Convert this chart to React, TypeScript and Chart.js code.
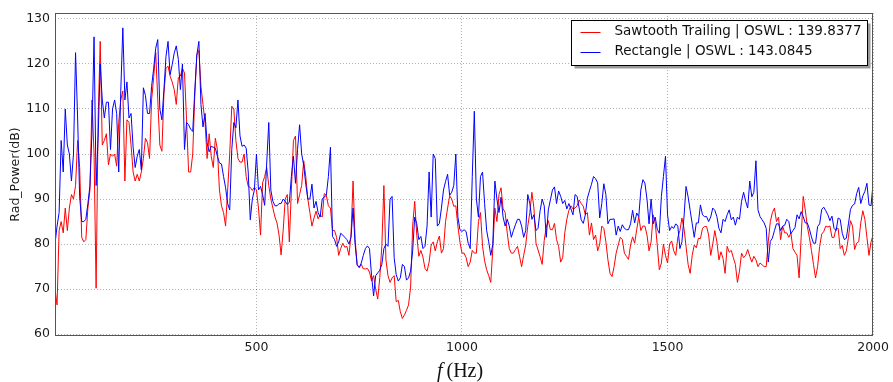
import React, { useEffect, useRef } from "react";
import { Chart, registerables } from "chart.js";

Chart.register(...registerables);

// Frequency grid (Hz): start and step of the spectrum samples
const F_START = 10;
const F_STEP = 5;

// Sawtooth Trailing radiated power (dB)
const sawtoothDb = [
  70, 66.5, 83, 85, 82.5, 88, 83, 88, 91, 90,
  93, 103, 97, 81.5, 80.5, 81, 88, 92, 112, 100,
  70.2, 108, 125, 102, 103, 104.5, 97.6, 100, 99.5, 100,
  97.3, 107, 112, 114, 94, 107.6, 107, 102, 96, 94,
  95.5, 94, 96, 99, 103.5, 102.5, 99, 112, 117, 122.5,
  112, 102, 100.6, 113.5, 119, 119.5, 117.3, 116, 114.3, 111,
  117, 117.3, 119, 118, 107.6, 96, 96, 100, 113, 122,
  123, 115, 111, 107, 99, 104.5, 99.5, 97, 103.5, 101,
  92, 88.5, 87, 84, 92, 100, 110.6, 110, 103, 99,
  98.2, 98.2, 100, 95, 92.8, 92.6, 91.9, 92.6, 92, 88,
  82, 93.6, 95, 97, 93, 90, 88, 86, 84.7, 82,
  77.6, 83, 90, 91, 80.5, 92, 103, 104, 89, 91,
  93, 98.5, 95, 90, 87, 84, 85.8, 87.3, 85.6, 86.5,
  86, 91.2, 90.8, 88.5, 88, 83, 83, 81.5, 77.5, 79,
  80.2, 79.3, 79.5, 77.5, 82, 94, 81, 75.5, 74.8, 75.5,
  74.5, 74.5, 74.6, 73.8, 71.8, 73, 70, 67.8, 72.5, 79.5,
  93, 76.5, 73, 71.5, 72.5, 73, 67.2, 67.5, 65, 63.5,
  64.3, 65.3, 66.5, 70.5, 84, 89.5, 82, 77.3, 78.6, 77.1,
  74.6, 74, 76, 79.8, 80.5, 78.5, 80.5, 81.8, 78, 79,
  85, 88, 90.7, 90, 88.4, 88.5, 84, 80.5, 78, 78,
  77, 75, 76, 78.6, 78, 78, 85, 87, 79.5, 76.3,
  74.3, 73, 71.5, 79, 88, 85, 91, 92.5, 87.8, 87,
  82.5, 79, 78, 78, 78.8, 79.5, 77.3, 75, 77.5, 79.8,
  84, 87, 91.5, 88, 80.2, 78.7, 77.2, 75.5, 80.8, 83.8,
  85.2, 83.2, 83.2, 84.6, 81, 79.5, 76, 77, 82.5, 85.5,
  87.5, 88.5, 87.8, 88, 88.5, 89.8, 89, 88.4, 86.5, 87,
  82, 84.7, 81, 82, 78.5, 80, 84, 83.5, 80.5, 76.5,
  73.5, 72.8, 75, 78, 79.8, 81.5, 81, 78, 77.3, 76.6,
  79.8, 81.6, 80.2, 83.2, 86.1, 83, 84, 84, 82, 78.5,
  80.5, 86.5, 84.7, 79.8, 74.3, 75.8, 80, 77.5, 75.8, 80,
  80.7, 78.5, 77.5, 81.5, 83, 85.8, 83.5, 79.5, 75.5, 73.5,
  77.5, 79.8, 79.2, 81.3, 81.2, 83.5, 83.9, 83.9, 82, 77.5,
  80, 83, 80.5, 76.5, 78.3, 76.8, 73.5, 79.5, 78.2, 78.6,
  77, 75.5, 71.5, 74, 78, 77, 77.5, 78.8, 77.3, 76,
  77.3, 76.5, 75, 75.8, 75.4, 75, 75, 80.5, 85, 87,
  88, 85, 86, 81, 84, 82.5, 82.5, 81.5, 82.5, 79,
  78.2, 77.5, 72.5, 81.5, 90.6, 87.6, 83.9, 81.5, 78.6, 75.5,
  72.5, 75, 79.5, 82.2, 82.8, 84, 83.8, 84, 81.5, 81.5,
  83.5, 83.5, 79, 79.7, 77.5, 78.5, 81.5, 85.2, 84, 78.8,
  80.2, 80.5, 84.7, 87.4, 85.5, 81.5, 77.5, 80.5, 82,
];

// Rectangle radiated power (dB)
const rectangleDb = [
  80, 84, 87, 103, 96, 110, 102, 100, 94, 100,
  122.5, 108, 90.5, 85, 85, 85.5, 89, 93, 105, 126,
  93, 104, 120, 112, 108, 111.5, 111.5, 101, 110, 112,
  109, 96, 114, 128, 112, 116, 108, 109, 101.5, 97,
  99.5, 101, 96.5, 114.7, 113, 109, 109, 115, 119, 123.5,
  125.4, 110, 107.6, 114.3, 121.7, 125, 117.6, 119.8, 122.4, 124,
  121, 114.3, 120, 101, 107, 106.5, 105.5, 105, 114, 122,
  125, 111, 106, 109, 102.5, 100.5, 101.7, 101.5, 101.3, 99.5,
  98, 97.8, 95, 92.5, 89, 87.6, 101, 107, 105.8, 112,
  104, 101.7, 102, 101.3, 96, 85.4, 90, 92, 100, 92,
  92.8, 91, 88.6, 98, 107, 92, 89.5, 88.5, 88.5, 89,
  89, 90, 89.5, 88.8, 89.3, 95, 99.5, 93.5, 101, 106.5,
  100, 97.5, 93.3, 90, 90, 93.3, 88, 89.5, 87, 86,
  90, 90.5, 90.8, 95, 101.5, 81.7, 81, 79.5, 80.5, 82.4,
  82, 81.5, 81, 80, 81.5, 88, 80, 75.3, 74.8, 75.8,
  77.5, 79, 79.6, 79, 73, 68.5, 73, 73.6, 74.2, 75.5,
  79, 80, 79.5, 90, 90.6, 77, 73.2, 71.8, 72.5, 75.5,
  75, 72, 72.5, 74, 78.5, 86, 84.5, 81, 81.7, 79,
  79.5, 84, 96, 86, 100, 99, 84, 84.6, 88, 92,
  93.9, 95.5, 90.8, 91.5, 93, 100, 86, 83.2, 82.8, 83.2,
  82.8, 80.2, 79, 95, 109.5, 90, 86, 95, 96, 89,
  83, 80.5, 77.5, 80, 94, 90, 87, 90.4, 86, 84,
  85.5, 84, 81.5, 83, 84.3, 85.5, 85.5, 84, 81.5, 83,
  91, 89, 85.5, 86.5, 83, 83.5, 87.4, 90, 88.5, 81.5,
  87.6, 89.8, 92, 92.7, 89, 91.8, 90.6, 89, 89.7, 87.8,
  89, 87.8, 86.5, 91, 90.6, 88, 85.4, 84.6, 86.5, 90.2,
  91.8, 93.3, 95, 94.5, 93.6, 85.8, 89, 93.4, 91, 84.5,
  85.5, 85.5, 85.6, 82, 84, 82.8, 84.3, 83.5, 83.2, 83.2,
  84.5, 87.5, 84.7, 86.9, 86.1, 92, 94.3, 93.5, 90, 84.5,
  90, 84.5, 86, 83.3, 82.4, 90.6, 95, 99.5, 86.5, 83,
  83.9, 83.5, 84.5, 84, 79, 80.5, 86, 92.8, 90.5, 87.5,
  84.5, 81.5, 84.7, 84.7, 88.7, 86.5, 86.1, 86.1, 85, 86,
  88, 87.5, 86.1, 83.5, 82.5, 85.5, 85, 86.5, 87.6, 85.4,
  86, 84.2, 86, 85.5, 89.5, 91.5, 89.5, 88, 94, 90.5,
  91.5, 98.5, 87.6, 86.1, 85.4, 84.7, 83.5, 76, 80.6, 81.3,
  83, 84.5, 84.5, 83, 84, 84.2, 85.5, 85, 82.3, 83,
  83.7, 86.5, 85.6, 87.2, 86.1, 84.7, 84.7, 83.4, 81.6, 80.2,
  80.2, 83.9, 84.5, 87.7, 88.2, 87.4, 86.5, 85.2, 86.2, 83.5,
  83, 85.8, 85.5, 82.4, 81, 81.3, 84.5, 87.7, 88.6, 88.9,
  91.2, 92.6, 89, 90.7, 91.7, 93.5, 88.7, 88.5, 93.5,
];

const freqHz = sawtoothDb.map((_, i) => F_START + F_STEP * i);

const xTickValues = [500, 1000, 1500, 2000];
const yTickValues = [60, 70, 80, 90, 100, 110, 120, 130];
const seriesLabels = [
  "Sawtooth Trailing | OSWL : 139.8377",
  "Rectangle | OSWL : 143.0845",
];
const seriesColors = ["#ff0000", "#0000ff"];
const yAxisTitle = "Rad_Power(dB)";
const xAxisSymbol = "f";
const xAxisUnit = "(Hz)";

const framePlugin = {
  id: "frame",
  afterDatasetsDraw(chart: any) {
    const { ctx, chartArea: a } = chart;
    ctx.save();
    ctx.strokeStyle = "#555";
    ctx.lineWidth = 1;
    ctx.strokeRect(Math.round(a.left) + 0.5, Math.round(a.top) + 0.5,
      Math.round(a.right - a.left) - 1, Math.round(a.bottom - a.top) - 1);
    ctx.restore();
  },
};

const legendPlugin = {
  id: "boxLegend",
  afterDraw(chart: any) {
    const { ctx, chartArea: a } = chart;
    const bw = 296, bh = 45;
    const bx = Math.round(a.right - 6 - bw) + 0.5;
    const by = Math.round(a.top + 7) + 0.5;
    ctx.save();
    ctx.fillStyle = "#9a9a9a";
    ctx.fillRect(bx + 3, by + 3, bw, bh);
    ctx.fillStyle = "#ffffff";
    ctx.fillRect(bx, by, bw, bh);
    ctx.strokeStyle = "#000";
    ctx.lineWidth = 1;
    ctx.strokeRect(bx, by, bw, bh);
    ctx.font = '13.5px "DejaVu Sans"';
    ctx.textBaseline = "middle";
    const order = [0, 1];
    order.forEach((k, row) => {
      const y = by + 11 + row * 20;
      ctx.strokeStyle = seriesColors[k];
      ctx.lineWidth = 1;
      ctx.beginPath();
      ctx.moveTo(bx + 9, Math.round(y) + 0.5);
      ctx.lineTo(bx + 29, Math.round(y) + 0.5);
      ctx.stroke();
      ctx.fillStyle = "#111";
      ctx.fillText(seriesLabels[k], bx + 43, y);
    });
    ctx.restore();
  },
};

const xTitlePlugin = {
  id: "xTitle",
  afterDraw(chart: any) {
    const { ctx, chartArea: a } = chart;
    ctx.save();
    ctx.fillStyle = "#111";
    ctx.textBaseline = "alphabetic";
    const fFont = 'italic 20px "Liberation Serif"';
    const uFont = '20px "Liberation Serif"';
    ctx.font = fFont;
    const fw = ctx.measureText(xAxisSymbol).width;
    ctx.font = uFont;
    const uw = ctx.measureText(xAxisUnit).width;
    const gap = 4;
    const total = fw + gap + uw;
    const cx = (a.left + a.right) / 2 - 4;
    const x0 = cx - total / 2;
    const y = chart.height - 5;
    ctx.font = fFont;
    ctx.fillText(xAxisSymbol, x0, y);
    ctx.font = uFont;
    ctx.fillText(xAxisUnit, x0 + fw + gap, y);
    ctx.restore();
  },
};

export default function App() {
  const canvasRef = useRef<HTMLCanvasElement | null>(null);

  useEffect(() => {
    document.body.style.margin = "0";
    const canvas = canvasRef.current;
    if (!canvas) return;
    const tickFont = { family: "DejaVu Sans", size: 12.5 };
    const chart = new Chart(canvas, {
      type: "line",
      data: {
        datasets: [
          {
            label: seriesLabels[1],
            data: freqHz.map((f, i) => ({ x: f, y: rectangleDb[i] })),
            borderColor: seriesColors[1],
            borderWidth: 1,
            pointRadius: 0,
            tension: 0,
            borderJoinStyle: "round",
          },
          {
            label: seriesLabels[0],
            data: freqHz.map((f, i) => ({ x: f, y: sawtoothDb[i] })),
            borderColor: seriesColors[0],
            borderWidth: 1,
            pointRadius: 0,
            tension: 0,
            borderJoinStyle: "round",
          },
        ],
      },
      options: {
        animation: false,
        responsive: false,
        devicePixelRatio: 1,
        layout: { padding: { left: 0, right: 19, top: 13, bottom: 0 } },
        plugins: {
          legend: { display: false },
          tooltip: { enabled: false },
        },
        scales: {
          x: {
            type: "linear",
            min: 10,
            max: 2000,
            afterBuildTicks: (scale: any) => {
              scale.ticks = xTickValues.map((v) => ({ value: v }));
            },
            afterFit: (scale: any) => {
              scale.height = 46;
            },
            ticks: {
              font: tickFont,
              color: "#1a1a1a",
              padding: 4,
              maxRotation: 0,
              callback: (v: any) => String(v),
            },
            grid: { color: "rgba(0,0,0,0.3)", lineWidth: 1, drawTicks: false },
            border: { display: false, dash: [1, 2] },
          },
          y: {
            type: "linear",
            min: 59.6,
            max: 131.3,
            afterBuildTicks: (scale: any) => {
              scale.ticks = yTickValues.map((v) => ({ value: v }));
            },
            afterFit: (scale: any) => {
              scale.width = 55;
            },
            ticks: {
              font: tickFont,
              color: "#1a1a1a",
              padding: 5,
              callback: (v: any) => String(v),
            },
            grid: { color: "rgba(0,0,0,0.3)", lineWidth: 1, drawTicks: false },
            border: { display: false, dash: [1, 2] },
            title: {
              display: true,
              text: yAxisTitle,
              font: { family: "DejaVu Sans", size: 12.5 },
              color: "#1a1a1a",
              padding: { top: 8, bottom: 0 },
            },
          },
        },
      },
      plugins: [framePlugin, legendPlugin, xTitlePlugin],
    } as any);
    return () => chart.destroy();
  }, []);

  return (
    <canvas
      ref={canvasRef}
      width={893}
      height={382}
      style={{ display: "block", width: 893, height: 382 }}
    />
  );
}
